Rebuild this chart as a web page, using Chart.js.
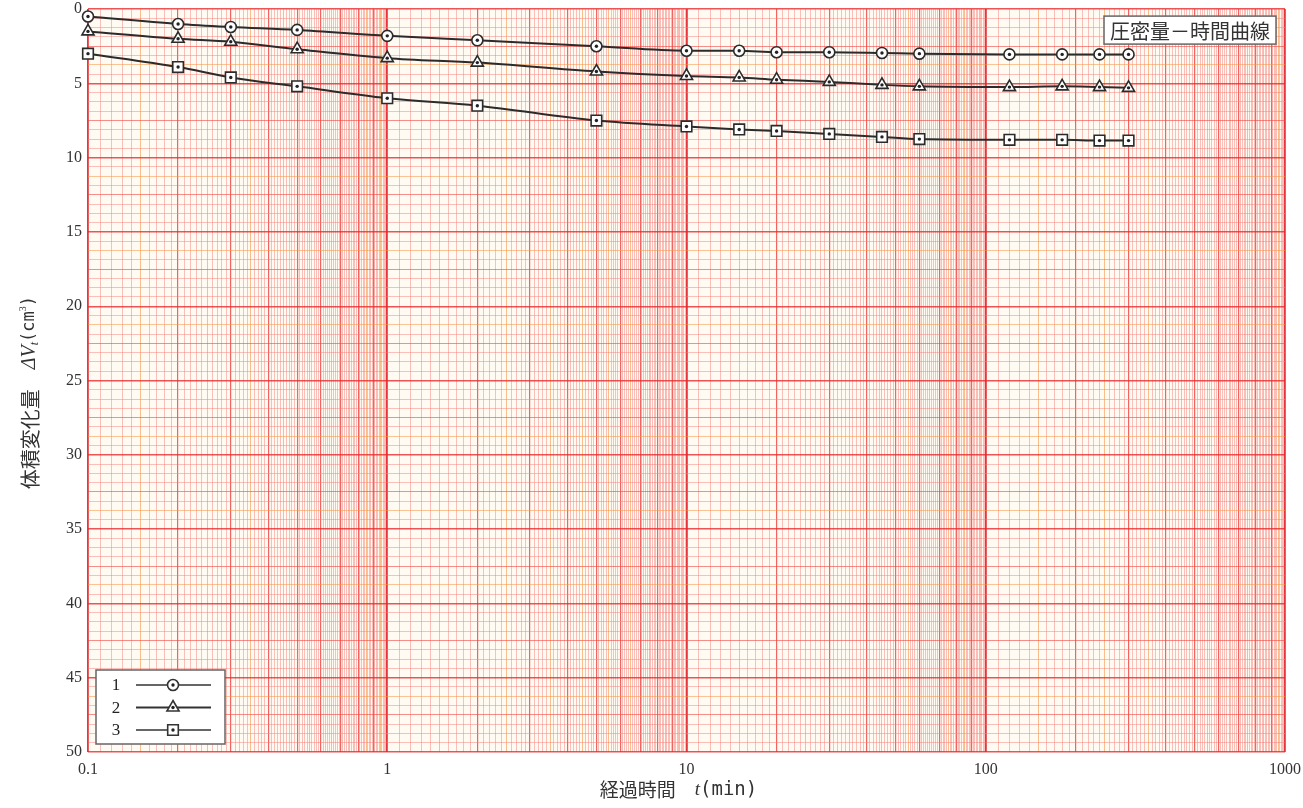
<!DOCTYPE html>
<html>
<head>
<meta charset="utf-8">
<script src="https://cdn.jsdelivr.net/npm/chart.js@4.4.1/dist/chart.umd.min.js"></script>
<style>
  html, body { margin: 0; padding: 0; background: #fff; }
  #wrap { width: 1303px; height: 808px; }
</style>
</head>
<body>
<div id="wrap"><canvas id="chart"></canvas></div>
<script>
/* ================= DATA ================= */
const times   = [0.1, 0.2, 0.3, 0.5, 1, 2, 5, 10, 15, 20, 30, 45, 60, 120, 180, 240, 300];
const series1 = [0.5, 1.0, 1.2, 1.4, 1.8, 2.1, 2.5, 2.8, 2.8, 2.9, 2.9, 2.95, 3.0, 3.05, 3.05, 3.05, 3.05];
const series2 = [1.5, 2.0, 2.2, 2.7, 3.3, 3.6, 4.2, 4.5, 4.6, 4.75, 4.9, 5.1, 5.2, 5.25, 5.2, 5.25, 5.3];
const series3 = [3.0, 3.9, 4.6, 5.2, 6.0, 6.5, 7.5, 7.9, 8.1, 8.2, 8.4, 8.6, 8.75, 8.8, 8.8, 8.85, 8.85];
const seriesNames  = ["1", "2", "3"];
const seriesStyles = ["circle", "triangle", "rect"];
const xTickLabels  = [0.1, 1, 10, 100, 1000];
const yTickLabels  = [0, 5, 10, 15, 20, 25, 30, 35, 40, 45, 50];
const chartTitle   = "圧密量－時間曲線";

/* ================= GRID (graph paper) ================= */
function xGridValues() {
    const out = [];
    for (let e = -1; e <= 2; e++) {
        for (let k = 10; k < 100; k++) {
            out.push(Number((k / 10 * Math.pow(10, e)).toPrecision(6)));
        }
    }
    out.push(1000);
    return out;
}
function yGridValues() {
    const out = [];
    for (let k = 0; k <= 80; k++) out.push(k * 0.625);
    return out;
}
function mantissa(v) {
    const e = Math.floor(Math.log10(v) + 1e-9);
    return v / Math.pow(10, e);
}
function near(a, b) { return Math.abs(a - b) < 1e-6; }

function xGridColor(v) {
    const m = mantissa(v);
    if (near(m, 1)) return "rgba(228,30,40,0.9)";
    if (near(m, Math.round(m))) return "rgba(236,50,50,0.75)";
    if (near(m * 2, Math.round(m * 2))) return "rgba(245,150,70,0.6)";
    return "rgba(246,120,115,0.45)";
}
function xGridWidth(v) {
    const m = mantissa(v);
    if (near(m, 1)) return 1.8;
    if (near(m, Math.round(m))) return 1.2;
    return 1;
}
function yGridColor(i) {
    if (i % 8 === 0) return "rgba(232,40,45,0.8)";
    if (i % 4 === 0) return "rgba(238,70,65,0.6)";
    if (i % 2 === 0) return "rgba(245,150,70,0.55)";
    return "rgba(246,120,115,0.45)";
}

/* ================= PLUGINS ================= */
const paperBg = {
    id: "paperBg",
    beforeDraw(chart) {
        const { ctx, chartArea: a } = chart;
        ctx.save();
        ctx.fillStyle = "#fffaf2";
        ctx.fillRect(a.left, a.top, a.right - a.left, a.bottom - a.top);
        ctx.restore();
    }
};

const markerDots = {
    id: "markerDots",
    afterDatasetsDraw(chart) {
        const ctx = chart.ctx;
        ctx.save();
        ctx.fillStyle = "#222";
        chart.data.datasets.forEach((ds, i) => {
            chart.getDatasetMeta(i).data.forEach(pt => {
                ctx.beginPath();
                ctx.arc(pt.x, pt.y, 1.7, 0, Math.PI * 2);
                ctx.fill();
            });
        });
        ctx.restore();
    }
};

function drawRuns(ctx, runs, cx, cy) {
    let total = 0;
    runs.forEach(r => { ctx.font = r.font; r.w = ctx.measureText(r.text).width; total += r.w; });
    let x = cx - total / 2;
    runs.forEach(r => {
        ctx.font = r.font;
        ctx.fillText(r.text, x, cy + (r.dy || 0));
        x += r.w;
    });
}

const decorations = {
    id: "decorations",
    afterDraw(chart) {
        const { ctx, chartArea: a } = chart;
        ctx.save();

        // title box
        ctx.font = "20px 'Noto Sans CJK JP'";
        const tw = ctx.measureText(chartTitle).width;
        const bx = a.right - 9 - tw - 12, by = a.top + 7, bh = 28;
        ctx.fillStyle = "#fff";
        ctx.fillRect(bx, by, tw + 12, bh);
        ctx.strokeStyle = "#666";
        ctx.lineWidth = 1.5;
        ctx.strokeRect(bx, by, tw + 12, bh);
        ctx.fillStyle = "#333";
        ctx.textBaseline = "middle";
        ctx.fillText(chartTitle, bx + 6, by + bh / 2 + 1);

        // legend box
        const lx = a.left + 8, ly = a.bottom - 82, lw = 129, lh = 74;
        ctx.fillStyle = "#fff";
        ctx.fillRect(lx, ly, lw, lh);
        ctx.strokeStyle = "#666";
        ctx.lineWidth = 1.5;
        ctx.strokeRect(lx, ly, lw, lh);
        chart.data.datasets.forEach((ds, i) => {
            const yy = ly + 15 + i * 22.5;
            ctx.fillStyle = "#222";
            ctx.font = "17px 'Liberation Serif'";
            ctx.textAlign = "center";
            ctx.fillText(seriesNames[i], lx + 20, yy + 1);
            ctx.strokeStyle = "#333";
            ctx.lineWidth = i === 1 ? 2.2 : 1.4;
            ctx.beginPath();
            ctx.moveTo(lx + 40, yy);
            ctx.lineTo(lx + 115, yy);
            ctx.stroke();
            ctx.fillStyle = "#fff";
            ctx.strokeStyle = "#333";
            ctx.lineWidth = 1.6;
            Chart.helpers.drawPoint(ctx, {
                pointStyle: seriesStyles[i], rotation: 0,
                radius: ds.pointRadius, borderWidth: 1.6
            }, lx + 77, yy);
            ctx.fillStyle = "#222";
            ctx.beginPath();
            ctx.arc(lx + 77, yy, 1.7, 0, Math.PI * 2);
            ctx.fill();
        });
        ctx.textAlign = "left";

        // x title
        ctx.fillStyle = "#333";
        ctx.textBaseline = "middle";
        drawRuns(ctx, [
            { text: "経過時間　", font: "19px 'Noto Sans CJK JP'" },
            { text: "t", font: "italic 19px 'Liberation Serif'" },
            { text: "(min)", font: "19px 'DejaVu Sans Mono'" }
        ], (a.left + a.right) / 2 - 8, 790);

        // y title (rotated)
        ctx.translate(30, (a.top + a.bottom) / 2 + 12);
        ctx.rotate(-Math.PI / 2);
        drawRuns(ctx, [
            { text: "体積変化量　", font: "20px 'Noto Sans CJK JP'" },
            { text: "Δ", font: "italic 20px 'Liberation Serif'" },
            { text: "V", font: "italic 20px 'Liberation Serif'" },
            { text: "t", font: "italic 12px 'Liberation Serif'", dy: 5 },
            { text: "(cm", font: "17px 'DejaVu Sans Mono'" },
            { text: "3", font: "10px 'Liberation Serif'", dy: -7 },
            { text: ")", font: "17px 'DejaVu Sans Mono'" }
        ], 0, 0);

        ctx.restore();
    }
};

/* ================= CHART ================= */
function makeDataset(label, values, style, radius) {
    return {
        label: label,
        data: times.map((t, i) => ({ x: t, y: values[i] })),
        borderColor: "#2b2b2b",
        borderWidth: 2,
        pointStyle: style,
        pointRadius: radius,
        pointBackgroundColor: "#fff",
        pointBorderColor: "#2b2b2b",
        pointBorderWidth: 1.6,
        cubicInterpolationMode: "monotone",
        fill: false,
        clip: false
    };
}

new Chart(document.getElementById("chart"), {
    type: "line",
    data: {
        datasets: [
            makeDataset(seriesNames[0], series1, seriesStyles[0], 5.5),
            makeDataset(seriesNames[1], series2, seriesStyles[1], 7),
            makeDataset(seriesNames[2], series3, seriesStyles[2], 7.5)
        ]
    },
    options: {
        responsive: true,
        maintainAspectRatio: false,
        animation: false,
        layout: { padding: { top: 8, right: 18, left: 0, bottom: 0 } },
        plugins: {
            legend: { display: false },
            tooltip: { enabled: false }
        },
        scales: {
            x: {
                type: "logarithmic",
                min: 0.1,
                max: 1000,
                afterBuildTicks: scale => { scale.ticks = xGridValues().map(v => ({ value: v })); },
                afterFit: scale => {
                    scale.height = 56;
                    scale.paddingLeft = 0;
                    scale.paddingRight = 0;
                },
                border: { display: false },
                grid: {
                    drawTicks: false,
                    color: ctx => xGridColor(ctx.tick.value),
                    lineWidth: ctx => xGridWidth(ctx.tick.value)
                },
                ticks: {
                    autoSkip: false,
                    maxRotation: 0,
                    minRotation: 0,
                    padding: 8,
                    color: "#333",
                    font: { family: "'Liberation Serif'", size: 16 },
                    callback: v => {
                        const hit = xTickLabels.find(l => near(l, v));
                        return hit === undefined ? "" : String(hit);
                    }
                }
            },
            y: {
                type: "linear",
                reverse: true,
                min: 0,
                max: 50,
                afterBuildTicks: scale => { scale.ticks = yGridValues().map(v => ({ value: v })); },
                afterFit: scale => {
                    scale.width = 88;
                    scale.paddingTop = 0;
                    scale.paddingBottom = 0;
                },
                border: { display: false },
                grid: {
                    drawTicks: false,
                    color: ctx => yGridColor(ctx.index),
                    lineWidth: ctx => (ctx.index % 8 === 0 ? 1.4 : 1)
                },
                ticks: {
                    autoSkip: false,
                    padding: 6,
                    color: "#333",
                    font: { family: "'Liberation Serif'", size: 16 },
                    callback: v => {
                        const hit = yTickLabels.find(l => near(l, v));
                        return hit === undefined ? "" : String(hit);
                    }
                }
            }
        }
    },
    plugins: [paperBg, markerDots, decorations]
});
</script>
</body>
</html>
